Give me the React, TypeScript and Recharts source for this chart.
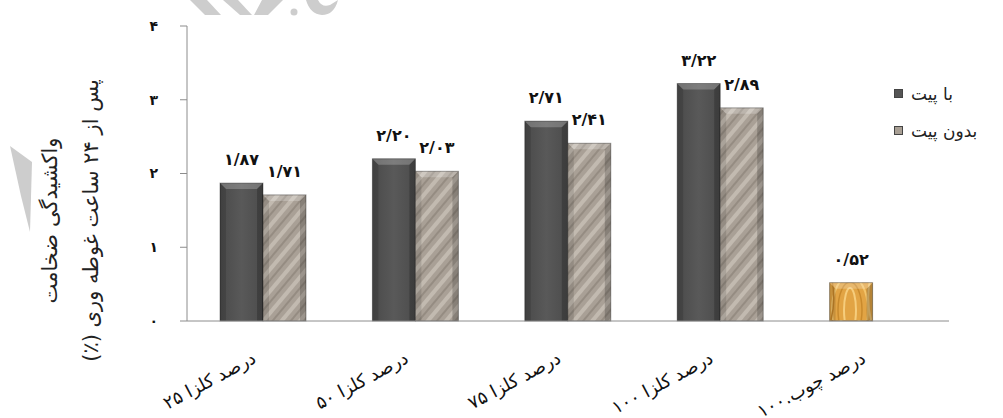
import React from "react";
import { BarChart, Bar, XAxis, YAxis, LabelList, Legend } from "recharts";

const categories = ["درصد کلزا ۲۵", "درصد کلزا ۵۰", "درصد کلزا ۷۵", "درصد کلزا ۱۰۰", "درصد چوب.۱۰۰"];
const withPeat = [1.87, 2.2, 2.71, 3.22, 0.52];
const withoutPeat = [1.71, 2.03, 2.41, 2.89, null];
const seriesNames = ["با پیت", "بدون پیت"];
const yTicks = [0, 1, 2, 3, 4];
const categoryEdges = [0, 1, 2, 3, 4, 5];
const yTitle = ["واکشیدگی ضخامت", "پس از ۲۴ ساعت غوطه وری (٪)"];

const FONT = "'DejaVu Sans', sans-serif";
const faDigits = "۰۱۲۳۴۵۶۷۸۹";
const toFa = (s: string) => s.replace(/[0-9]/g, (d) => faDigits[+d]);
const fmtValue = (v: any) => (v == null ? "" : toFa(Number(v).toFixed(2)).replace(".", "/"));

const data = categories.map((name, i) => ({
  name,
  edge: i + 0.5,
  withPeat: withPeat[i],
  withoutPeat: withoutPeat[i],
}));

function BevelBar(props: any) {
  const { x, y, width, height, index, kind } = props;
  if (height == null || height <= 0) return null;
  let fill = "url(#darkFill)";
  if (kind === "light") fill = "url(#stripes)";
  else if (index === categories.length - 1) fill = "url(#wood)";
  const b = Math.min(6, height / 3);
  return (
    <g>
      <rect x={x} y={y} width={width} height={height} fill={fill} />
      <polygon
        points={`${x},${y} ${x + width},${y} ${x + width - b},${y + b} ${x + b},${y + b}`}
        fill="#fff"
        fillOpacity={0.22}
      />
      <polygon
        points={`${x},${y} ${x + b},${y + b} ${x + b},${y + height} ${x},${y + height}`}
        fill="#000"
        fillOpacity={0.12}
      />
      <polygon
        points={`${x + width},${y} ${x + width - b},${y + b} ${x + width - b},${y + height} ${x + width},${y + height}`}
        fill="#000"
        fillOpacity={0.2}
      />
      <rect x={x} y={y} width={width} height={height} fill="none" stroke="#000" strokeOpacity={0.35} />
    </g>
  );
}

// rotated category names, right end anchored under the category centre
function CategoryTick({ x, y, payload }: any) {
  return (
    <g transform={`translate(${x},${y})`}>
      <text
        x={0}
        y={0}
        transform="translate(-6,33) rotate(-28)"
        direction="rtl"
        textAnchor="start"
        fontFamily={FONT}
        fontSize={18}
        fill="#111"
      >
        {payload.value}
      </text>
    </g>
  );
}

function YTitle({ viewBox }: any) {
  const cy = viewBox.y + viewBox.height / 2 + 47;
  return (
    <g fontFamily={FONT} fontSize={21} fill="#222">
      <text x={0} y={0} transform={`translate(57,${cy}) rotate(-90)`} direction="rtl" textAnchor="middle">
        {yTitle[0]}
      </text>
      <text x={0} y={0} transform={`translate(98,${cy}) rotate(-90)`} direction="rtl" textAnchor="middle">
        {yTitle[1]}
      </text>
    </g>
  );
}

function LegendBox() {
  const swatches = ["#555", "#a89f94"];
  return (
    <div style={{ fontFamily: FONT, fontSize: 17, color: "#222" }}>
      {seriesNames.map((name, i) => (
        <div key={name} style={{ display: "flex", alignItems: "center", height: 37 }}>
          <span
            style={{
              width: 9,
              height: 9,
              background: swatches[i],
              border: "1px solid #444",
              marginRight: 8,
              boxSizing: "border-box",
            }}
          />
          <span dir="rtl">{name}</span>
        </div>
      ))}
    </div>
  );
}

export default function App() {
  return (
    <div style={{ position: "absolute", left: 0, top: 0, width: 1003, height: 418, background: "#fff" }}>
      <BarChart
        width={1003}
        height={418}
        data={data}
        margin={{ top: 26, right: 54, bottom: 0, left: 0 }}
        barGap={0}
        barSize={43}
      >
        <defs>
          <linearGradient id="darkFill" x1="0" y1="0" x2="1" y2="0">
            <stop offset="0%" stopColor="#4a4a4a" />
            <stop offset="50%" stopColor="#595959" />
            <stop offset="100%" stopColor="#4c4c4c" />
          </linearGradient>
          <pattern id="stripes" width="14" height="14" patternUnits="userSpaceOnUse" patternTransform="rotate(40)">
            <rect width="14" height="14" fill="#a9a096" />
            <rect width="4" height="14" fill="#c2bab0" />
            <rect x="8" width="2" height="14" fill="#958c82" />
          </pattern>
          <pattern id="wood" width="46" height="40" patternUnits="userSpaceOnUse">
            <rect width="46" height="40" fill="#e2a444" />
            <ellipse cx="22" cy="30" rx="6" ry="22" fill="none" stroke="#f6cd7c" strokeWidth="2" />
            <ellipse cx="22" cy="30" rx="12" ry="28" fill="none" stroke="#c98a2c" strokeWidth="1.5" />
            <ellipse cx="22" cy="30" rx="18" ry="34" fill="none" stroke="#f3c46a" strokeWidth="2" />
            <path d="M4 0 Q8 20 3 40" stroke="#c4852a" fill="none" strokeWidth="1.5" />
            <path d="M42 0 Q38 20 43 40" stroke="#f2c777" fill="none" strokeWidth="2" />
          </pattern>
        </defs>
        <XAxis
          xAxisId="edges"
          type="number"
          dataKey="edge"
          domain={[0, 5]}
          ticks={categoryEdges}
          tick={false}
          tickSize={6}
          axisLine={false}
          tickLine={{ stroke: "#8c8c8c" }}
          height={0}
        />
        <XAxis
          dataKey="name"
          axisLine={{ stroke: "#8c8c8c" }}
          tickLine={false}
          tick={<CategoryTick />}
          interval={0}
          height={97}
        />
        <YAxis
          domain={[0, 4]}
          ticks={yTicks}
          width={187}
          tickSize={7}
          tickMargin={22}
          axisLine={{ stroke: "#8c8c8c" }}
          tickLine={{ stroke: "#8c8c8c" }}
          tickFormatter={(v) => toFa(String(v))}
          tick={{ fontFamily: FONT, fontSize: 14, fill: "#111", fontWeight: "bold" }}
          label={<YTitle />}
        />
        <Legend
          layout="vertical"
          align="center"
          verticalAlign="middle"
          content={<LegendBox />}
          wrapperStyle={{ left: 894, top: 75, width: 110 }}
        />
        <Bar
          dataKey="withPeat"
          name={seriesNames[0]}
          isAnimationActive={false}
          shape={(p: any) => <BevelBar {...p} kind="dark" />}
        >
          <LabelList
            dataKey="withPeat"
            position="top"
            offset={18}
            formatter={fmtValue}
            style={{ fontFamily: FONT, fontSize: 16, fontWeight: "bold", fill: "#111" }}
          />
        </Bar>
        <Bar
          dataKey="withoutPeat"
          name={seriesNames[1]}
          isAnimationActive={false}
          shape={(p: any) => <BevelBar {...p} kind="light" />}
        >
          <LabelList
            dataKey="withoutPeat"
            position="top"
            offset={18}
            formatter={fmtValue}
            style={{ fontFamily: FONT, fontSize: 16, fontWeight: "bold", fill: "#111" }}
          />
        </Bar>
      </BarChart>
      {/* faint watermark fragments over the top edge and left side */}
      <svg width={1003} height={418} style={{ position: "absolute", left: 0, top: 0, pointerEvents: "none" }}>
        <g fill="#cdcdcd">
          <polygon points="190,0 207,0 221,15 205,15" />
          <polygon points="223,0 238,0 252,15 240,15" />
          <polygon points="262,0 283,0 268,15 254,15" />
          <circle cx={294} cy={12} r={3.5} />
          <path d="M306 0 L318 0 Q322 8 330 5 L338 0 Q334 15 322 15 Q310 14 306 0 Z" />
          <polygon points="10,146 32,162 30,232 21,196" />
        </g>
      </svg>
    </div>
  );
}
